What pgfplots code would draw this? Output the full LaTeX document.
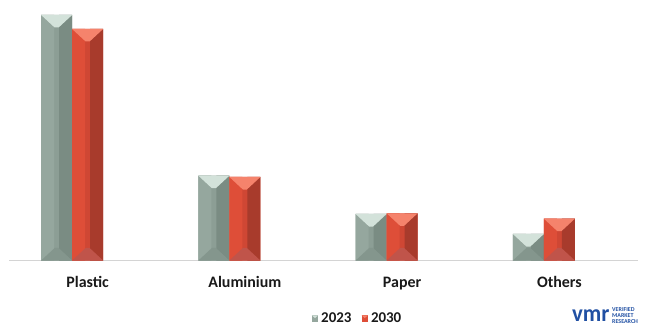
\documentclass[border=0pt]{standalone}
\usepackage{fontspec}
\setmainfont{Carlito}
\usepackage{pgfplots}
\pgfplotsset{compat=1.18}
\usepackage{pgfplotstable}

% packaging material shares, 2023 vs 2030
\pgfplotstableread{
x  y2023  y2030
0  245.5  231.5
1  84.8   83.5
2  46.5   47.2
3  26.5   41.8
}\shares

% bevel colours
\definecolor{gTop}{HTML}{D3E2DA}
\definecolor{gLeft}{HTML}{95A79E}
\definecolor{gMid}{HTML}{8C9E95}
\definecolor{gRight}{HTML}{7A8C83}
\definecolor{gBot}{HTML}{84968D}
\definecolor{rTop}{HTML}{F5836C}
\definecolor{rLeft}{HTML}{DE4E38}
\definecolor{rMid}{HTML}{CF4734}
\definecolor{rRight}{HTML}{A83B2C}
\definecolor{rBot}{HTML}{C0544A}
\definecolor{axisgray}{HTML}{D4D4D4}
\definecolor{vmrblue}{HTML}{2150A3}

% top and bottom facets of an angled bevel on a 31bp wide bar
\pgfdeclareplotmark{bevtop}{%
  \pgfpathmoveto{\pgfpoint{-15.5bp}{0bp}}%
  \pgfpathlineto{\pgfpoint{15.5bp}{0bp}}%
  \pgfpathlineto{\pgfpoint{2bp}{-12.5bp}}%
  \pgfpathlineto{\pgfpoint{-2bp}{-12.5bp}}%
  \pgfpathclose\pgfusepathqfill}
\pgfdeclareplotmark{bevbot}{%
  \pgfpathmoveto{\pgfpoint{-15.5bp}{0bp}}%
  \pgfpathlineto{\pgfpoint{15.5bp}{0bp}}%
  \pgfpathlineto{\pgfpoint{2bp}{12.5bp}}%
  \pgfpathlineto{\pgfpoint{-2bp}{12.5bp}}%
  \pgfpathclose\pgfusepathqfill}

\begin{document}
\begin{tikzpicture}
\begin{axis}[
  at={(0,0)}, anchor=south west,
  scale only axis, width=629bp, height=250bp,
  xmin=-0.5, xmax=3.5, ymin=0, ymax=250,
  axis x line*=bottom, axis y line=none,
  x axis line style={draw=axisgray, line width=1.5bp, -},
  xtick={0,1,2,3}, xticklabels={Plastic,Aluminium,Paper,Others},
  xtick style={draw=none}, major tick length=0pt,
  xticklabel style={font=\fontsize{16}{16}\selectfont\bfseries, anchor=base,
    yshift=-27bp, text=black!90},
  clip=false,
  legend columns=-1,
  legend style={at={(347.5bp,-58bp)}, anchor=center, draw=none, fill=none,
    font=\fontsize{15}{15}\selectfont\bfseries, text=black!90,
    nodes={inner sep=0pt},
    /tikz/every odd column/.append style={column sep=3bp},
    /tikz/every even column/.append style={column sep=10bp}},
]
% 2023
\addplot[ybar, bar width=31bp, bar shift=-31bp, fill=gMid, draw=none,
  legend image code/.code={\fill[gLeft] (0bp,-3.2bp) rectangle (6.5bp,3.2bp);
    \fill[gTop] (0bp,3.2bp) -- (6.5bp,3.2bp) -- (3.25bp,0.5bp) -- cycle;}]
  table[x=x, y=y2023] {\shares};
\addlegendentry{2023}
\addplot[ybar, bar width=13bp, bar shift=-40bp, fill=gLeft, draw=none, forget plot]
  table[x=x, y=y2023] {\shares};
\addplot[ybar, bar width=13bp, bar shift=-22bp, fill=gRight, draw=none, forget plot]
  table[x=x, y=y2023] {\shares};
\addplot[only marks, mark=bevtop, mark options={color=gTop, xshift=-31bp}, forget plot]
  table[x=x, y=y2023] {\shares};
\addplot[only marks, mark=bevbot, mark options={color=gBot, xshift=-31bp}, forget plot]
  table[x=x, y expr=0] {\shares};
% 2030
\addplot[ybar, bar width=31bp, bar shift=0bp, fill=rMid, draw=none,
  legend image code/.code={\fill[rLeft] (0bp,-3.2bp) rectangle (6.5bp,3.2bp);
    \fill[rTop] (0bp,3.2bp) -- (6.5bp,3.2bp) -- (3.25bp,0.5bp) -- cycle;}]
  table[x=x, y=y2030] {\shares};
\addlegendentry{2030}
\addplot[ybar, bar width=13bp, bar shift=-9bp, fill=rLeft, draw=none, forget plot]
  table[x=x, y=y2030] {\shares};
\addplot[ybar, bar width=13bp, bar shift=9bp, fill=rRight, draw=none, forget plot]
  table[x=x, y=y2030] {\shares};
\addplot[only marks, mark=bevtop, mark options={color=rTop}, forget plot]
  table[x=x, y=y2030] {\shares};
\addplot[only marks, mark=bevbot, mark options={color=rBot}, forget plot]
  table[x=x, y expr=0] {\shares};
\end{axis}
% brand mark
\node[anchor=base west, text=vmrblue, font=\fontsize{24}{24}\selectfont\bfseries,
  inner sep=0pt, xscale=0.95] at (563bp,-61bp) {vmr};
\node[anchor=north west, align=left, text=vmrblue,
  font=\fontsize{6}{6.2}\selectfont\bfseries, inner sep=0pt] at (603bp,-47bp)
  {VERIFIED\\MARKET\\RESEARCH};
\pgfresetboundingbox
\useasboundingbox (-9bp,-66.5bp) rectangle (639bp,260.5bp);
\end{tikzpicture}
\end{document}
